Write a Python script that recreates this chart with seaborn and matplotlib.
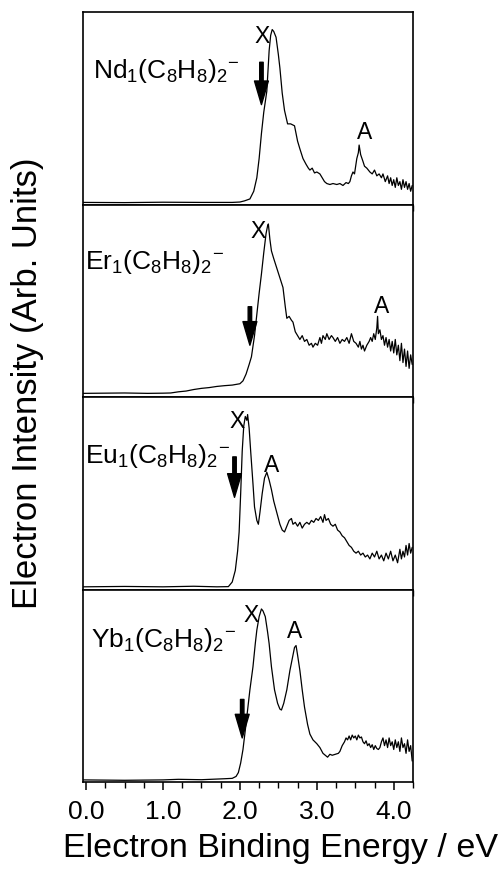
import matplotlib
matplotlib.use("Agg")
import matplotlib.pyplot as plt
import seaborn as sns
import pandas as pd
from matplotlib.ticker import MultipleLocator

sns.set_style("ticks")
plt.rcParams['font.family'] = ['Liberation Sans', 'DejaVu Sans']
plt.rcParams['mathtext.fontset'] = 'custom'
plt.rcParams['mathtext.rm'] = 'Liberation Sans'
plt.rcParams['mathtext.it'] = 'Liberation Sans:italic'
plt.rcParams['mathtext.default'] = 'regular'
plt.rcParams['text.color'] = 'black'
plt.rcParams['axes.labelcolor'] = 'black'
plt.rcParams['xtick.color'] = 'black'
plt.rcParams['ytick.color'] = 'black'

# ---------------- data (intensity as fraction of panel height) ----------------
nd_points = [(-0.04,0.012),(0.5,0.011),(1.0,0.013),(1.5,0.012),(1.9,0.012),(2.0,0.014),(2.06,0.02),
    (2.13,0.03),(2.18,0.07),(2.22,0.14),(2.25,0.24),(2.28,0.37),(2.31,0.48),(2.35,0.59),(2.38,0.80),
    (2.40,0.88),(2.42,0.91),(2.44,0.90),(2.47,0.87),(2.50,0.78),(2.52,0.71),(2.55,0.58),(2.58,0.49),
    (2.62,0.42),(2.66,0.42),(2.71,0.41),(2.73,0.37),(2.75,0.33),(2.78,0.29),(2.82,0.24),(2.86,0.21),
    (2.89,0.19),(2.91,0.18),(2.94,0.19),(2.97,0.165),(3.00,0.17),(3.04,0.16),(3.07,0.14),(3.10,0.12),
    (3.13,0.11),(3.17,0.105),(3.21,0.11),(3.26,0.105),(3.30,0.11),(3.34,0.10),(3.38,0.115),(3.41,0.11),
    (3.43,0.12),(3.45,0.15),(3.47,0.17),(3.49,0.16),(3.52,0.24),(3.54,0.27),(3.55,0.31),(3.57,0.26),
    (3.60,0.225),(3.62,0.20),(3.65,0.19),(3.69,0.17),(3.72,0.16),(3.75,0.18),(3.78,0.15),(3.81,0.16),
    (3.84,0.14),(3.86,0.16),(3.89,0.12),(3.92,0.15),(3.94,0.11),(3.96,0.14),(3.98,0.10),(4.00,0.13),
    (4.02,0.09),(4.04,0.14),(4.06,0.10),(4.08,0.12),(4.10,0.08),(4.12,0.13),(4.14,0.09),(4.16,0.12),
    (4.18,0.08),(4.20,0.11),(4.22,0.07),(4.24,0.10)]

er_points = [(-0.04,0.02),(0.5,0.022),(0.8,0.02),(1.0,0.021),(1.1,0.022),(1.2,0.028),(1.3,0.032),
    (1.4,0.04),(1.5,0.046),(1.6,0.05),(1.7,0.056),(1.8,0.06),(1.9,0.063),(2.0,0.07),(2.04,0.085),
    (2.08,0.12),(2.12,0.17),(2.15,0.21),(2.19,0.32),(2.22,0.43),(2.25,0.54),(2.28,0.64),(2.31,0.75),
    (2.34,0.85),(2.36,0.89),(2.37,0.90),(2.39,0.82),(2.41,0.76),(2.44,0.72),(2.48,0.67),(2.52,0.62),
    (2.56,0.57),(2.59,0.47),(2.61,0.41),(2.64,0.42),(2.67,0.40),(2.69,0.39),(2.72,0.34),(2.75,0.32),
    (2.78,0.30),(2.81,0.32),(2.84,0.29),(2.87,0.30),(2.90,0.27),(2.93,0.28),(2.95,0.26),(2.98,0.28),
    (3.01,0.27),(3.04,0.31),(3.06,0.28),(3.08,0.32),(3.11,0.30),(3.13,0.33),(3.16,0.30),(3.19,0.32),
    (3.21,0.31),(3.24,0.29),(3.27,0.31),(3.30,0.28),(3.33,0.30),(3.36,0.29),(3.39,0.31),(3.42,0.28),
    (3.45,0.33),(3.48,0.29),(3.51,0.28),(3.54,0.26),(3.56,0.29),(3.58,0.25),(3.60,0.27),(3.62,0.24),
    (3.65,0.27),(3.68,0.29),(3.70,0.31),(3.72,0.29),(3.74,0.33),(3.76,0.30),(3.78,0.36),(3.79,0.42),
    (3.80,0.33),(3.82,0.35),(3.84,0.30),(3.86,0.32),(3.88,0.27),(3.90,0.31),(3.92,0.26),(3.94,0.30),
    (3.96,0.24),(3.98,0.29),(4.00,0.23),(4.02,0.30),(4.04,0.22),(4.06,0.27),(4.08,0.19),(4.10,0.28),
    (4.12,0.18),(4.14,0.25),(4.16,0.16),(4.18,0.24),(4.20,0.15),(4.22,0.22),(4.24,0.17)]

eu_points = [(-0.04,0.015),(0.5,0.017),(1.0,0.015),(1.4,0.018),(1.7,0.015),(1.85,0.016),(1.90,0.04),
    (1.94,0.10),(1.97,0.20),(1.99,0.30),(2.01,0.50),(2.03,0.72),(2.05,0.85),(2.07,0.90),(2.09,0.88),
    (2.10,0.91),(2.12,0.84),(2.14,0.72),(2.17,0.55),(2.19,0.43),(2.22,0.36),(2.24,0.34),(2.26,0.40),
    (2.29,0.50),(2.32,0.58),(2.35,0.61),(2.38,0.57),(2.41,0.52),(2.44,0.46),(2.48,0.40),(2.52,0.34),
    (2.55,0.31),(2.58,0.30),(2.61,0.33),(2.64,0.36),(2.67,0.37),(2.69,0.34),(2.72,0.35),(2.75,0.33),
    (2.78,0.35),(2.81,0.32),(2.84,0.34),(2.87,0.35),(2.90,0.34),(2.93,0.36),(2.96,0.35),(2.99,0.37),
    (3.02,0.36),(3.05,0.38),(3.08,0.35),(3.10,0.39),(3.12,0.36),(3.15,0.37),(3.18,0.34),(3.21,0.33),
    (3.24,0.34),(3.27,0.31),(3.30,0.30),(3.33,0.28),(3.36,0.27),(3.39,0.25),(3.42,0.23),(3.45,0.22),
    (3.48,0.20),(3.51,0.19),(3.54,0.20),(3.57,0.18),(3.60,0.19),(3.63,0.17),(3.66,0.18),(3.69,0.16),
    (3.72,0.19),(3.75,0.17),(3.78,0.20),(3.81,0.16),(3.84,0.18),(3.87,0.15),(3.90,0.19),(3.93,0.16),
    (3.96,0.20),(3.99,0.15),(4.02,0.18),(4.05,0.14),(4.08,0.21),(4.10,0.16),(4.12,0.20),(4.14,0.17),
    (4.16,0.23),(4.18,0.18),(4.20,0.24),(4.22,0.19),(4.24,0.22)]

yb_points = [(-0.04,0.012),(0.5,0.01),(1.0,0.012),(1.2,0.015),(1.5,0.013),(1.8,0.018),(1.9,0.02),
    (1.95,0.03),(1.98,0.05),(2.01,0.10),(2.04,0.17),(2.07,0.27),(2.10,0.375),(2.13,0.48),(2.17,0.60),
    (2.20,0.72),(2.22,0.79),(2.25,0.86),(2.28,0.90),(2.30,0.89),(2.33,0.86),(2.36,0.78),(2.38,0.72),
    (2.41,0.60),(2.45,0.48),(2.49,0.41),(2.52,0.38),(2.54,0.375),(2.57,0.41),(2.61,0.48),(2.65,0.58),
    (2.69,0.66),(2.71,0.70),(2.73,0.71),(2.75,0.66),(2.78,0.58),(2.81,0.48),(2.84,0.39),(2.88,0.30),
    (2.91,0.25),(2.95,0.22),(3.00,0.20),(3.04,0.18),(3.08,0.15),(3.11,0.14),(3.14,0.13),(3.17,0.145),
    (3.20,0.14),(3.24,0.145),(3.28,0.15),(3.30,0.16),(3.33,0.19),(3.36,0.21),(3.38,0.23),(3.40,0.22),
    (3.42,0.24),(3.44,0.22),(3.46,0.245),(3.48,0.23),(3.50,0.24),(3.52,0.22),(3.54,0.245),(3.56,0.23),
    (3.58,0.235),(3.60,0.21),(3.62,0.20),(3.64,0.215),(3.66,0.19),(3.68,0.20),(3.70,0.18),(3.72,0.195),
    (3.74,0.17),(3.76,0.19),(3.78,0.175),(3.80,0.17),(3.82,0.18),(3.84,0.21),(3.86,0.23),(3.88,0.19),
    (3.90,0.22),(3.92,0.18),(3.94,0.23),(3.96,0.19),(3.98,0.21),(4.00,0.17),(4.02,0.22),(4.04,0.18),
    (4.06,0.21),(4.08,0.16),(4.10,0.23),(4.12,0.18),(4.14,0.20),(4.16,0.15),(4.18,0.22),(4.20,0.16),
    (4.22,0.19),(4.24,0.11)]

species_labels = [r'Nd$_1$(C$_8$H$_8$)$_2$$^{-}$', r'Er$_1$(C$_8$H$_8$)$_2$$^{-}$',
                  r'Eu$_1$(C$_8$H$_8$)$_2$$^{-}$', r'Yb$_1$(C$_8$H$_8$)$_2$$^{-}$']
label_pos = [(0.09, 0.66), (-0.02, 0.665), (-0.01, 0.66), (0.07, 0.70)]
arrow_x = [2.28, 2.13, 1.93, 2.03]
arrow_top = [0.74, 0.47, 0.69, 0.43]
arrow_tip = [0.52, 0.27, 0.48, 0.23]
x_label_pos = [(2.29, 0.84), (2.24, 0.825), (1.97, 0.84), (2.14, 0.83)]
a_label_pos = [(3.62, 0.34), (3.84, 0.44), (2.41, 0.61), (2.71, 0.75)]
tick_values = [0, 1, 2, 3, 4]
tick_labels = ['0.0', '1.0', '2.0', '3.0', '4.0']

all_points = [nd_points, er_points, eu_points, yb_points]

fig, axes = plt.subplots(4, 1, sharex=True, figsize=(5.03, 8.73), dpi=100)
fig.subplots_adjust(left=0.165, right=0.821, top=0.986, bottom=0.104, hspace=0)

for i, ax in enumerate(axes):
    df = pd.DataFrame(all_points[i], columns=['E', 'I'])
    sns.lineplot(data=df, x='E', y='I', ax=ax, color='black', linewidth=0.9,
                 estimator=None, sort=False)
    ax.set_xlim(-0.04, 4.25)
    ax.set_ylim(0, 1)
    ax.set_yticks([])
    ax.set_xlabel('')
    ax.set_ylabel('')
    for s in ax.spines.values():
        s.set_linewidth(1.2)
        s.set_color('black')
    ax.xaxis.set_major_locator(MultipleLocator(1.0))
    ax.xaxis.set_minor_locator(MultipleLocator(0.25))
    ax.tick_params(axis='x', which='major', direction='out', length=6, width=1.1,
                   color='black', pad=7, labelsize=19)
    ax.tick_params(axis='x', which='minor', direction='out', length=4, width=1.0, color='black')
    lx, ly = label_pos[i]
    ax.text(lx, ly, species_labels[i], fontsize=19, ha='left', va='baseline')
    ax.annotate('', xy=(arrow_x[i], arrow_tip[i]), xytext=(arrow_x[i], arrow_top[i]),
                arrowprops=dict(facecolor='black', edgecolor='black', width=2.5,
                                headwidth=10, headlength=17, shrink=0))
    ax.text(x_label_pos[i][0], x_label_pos[i][1], 'X', fontsize=16.5, ha='center', va='baseline')
    ax.text(a_label_pos[i][0], a_label_pos[i][1], 'A', fontsize=16.5, ha='center', va='baseline')

axes[-1].set_xticks(tick_values)
axes[-1].set_xticklabels(tick_labels)

fig.text(0.557, 0.018, 'Electron Binding Energy / eV', fontsize=24.5, ha='center', va='baseline')
fig.text(0.055, 0.561, 'Electron Intensity (Arb. Units)', fontsize=25, ha='center',
         va='center', rotation=90)

fig.savefig('out.png', dpi=100)
